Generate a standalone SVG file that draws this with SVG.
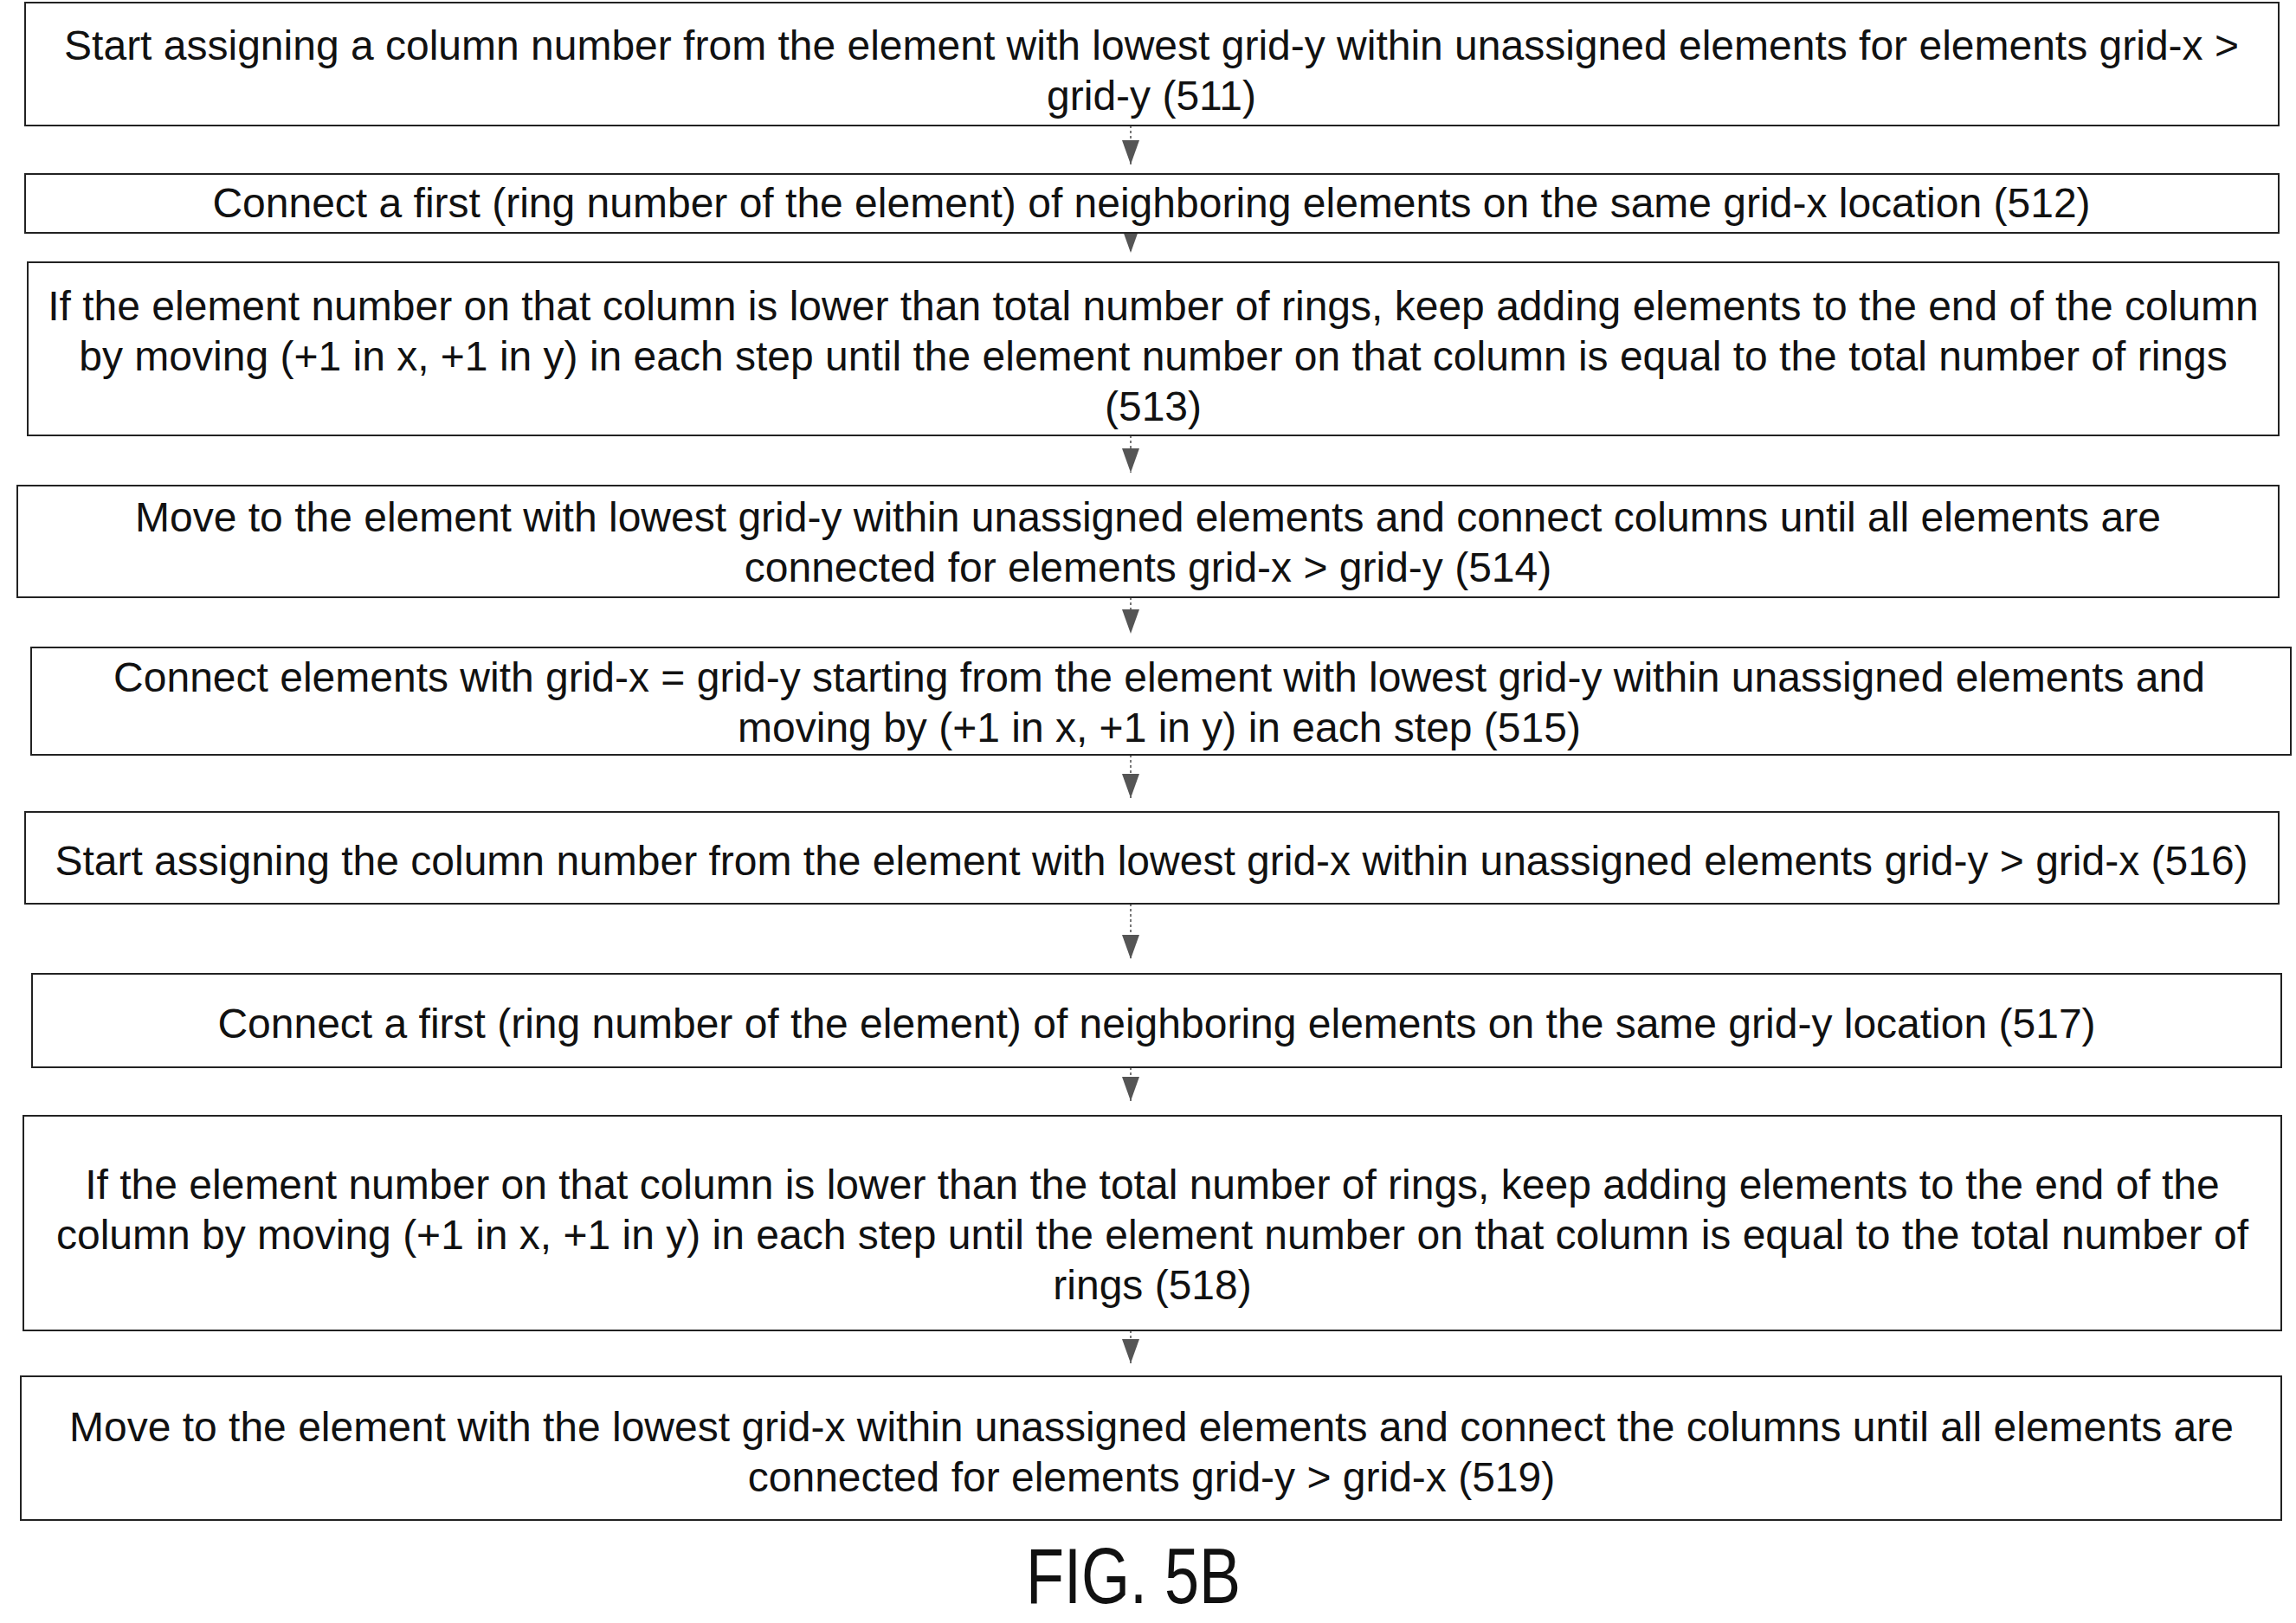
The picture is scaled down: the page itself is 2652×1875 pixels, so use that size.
<svg xmlns="http://www.w3.org/2000/svg" width="2652" height="1875" viewBox="0 0 2652 1875">
<style>
.b{fill:#fff;stroke:#222;stroke-width:2}
.t{font-family:"Liberation Sans",Arial,sans-serif;font-size:48px;fill:#111;text-anchor:middle}
.c{stroke:#777;stroke-width:2;stroke-dasharray:3 3;fill:none}
</style>
<defs><marker id="a" markerWidth="28" markerHeight="20" refX="28" refY="10" orient="auto" markerUnits="userSpaceOnUse" viewBox="0 0 28 20"><path d="M0,0 L28,10 L0,20 Z" fill="#555"/></marker></defs>
<rect width="2652" height="1875" fill="#fff"/>
<g id="connectors">
<line class="c" x1="1306" y1="145" x2="1306" y2="190" marker-end="url(#a)"/>
<line class="c" x1="1306" y1="269" x2="1306" y2="292" marker-end="url(#a)"/>
<line class="c" x1="1306" y1="503" x2="1306" y2="546" marker-end="url(#a)"/>
<line class="c" x1="1306" y1="690" x2="1306" y2="732" marker-end="url(#a)"/>
<line class="c" x1="1306" y1="872" x2="1306" y2="922" marker-end="url(#a)"/>
<line class="c" x1="1306" y1="1044" x2="1306" y2="1108" marker-end="url(#a)"/>
<line class="c" x1="1306" y1="1233" x2="1306" y2="1272" marker-end="url(#a)"/>
<line class="c" x1="1306" y1="1537" x2="1306" y2="1575" marker-end="url(#a)"/>
</g>
<g id="n511"><rect class="b" x="29" y="3" width="2603" height="142"/><text class="t" x="1330" y="69">Start assigning a column number from the element with lowest grid-y within unassigned elements for elements grid-x &gt;</text><text class="t" x="1330" y="127">grid-y (511)</text></g>
<g id="n512"><rect class="b" x="29" y="201" width="2603" height="68"/><text class="t" x="1330" y="251">Connect a first (ring number of the element) of neighboring elements on the same grid-x location (512)</text></g>
<g id="n513"><rect class="b" x="32" y="303" width="2600" height="200"/><text class="t" x="1332" y="370">If the element number on that column is lower than total number of rings, keep adding elements to the end of the column</text><text class="t" x="1332" y="428">by moving (+1 in x, +1 in y) in each step until the element number on that column is equal to the total number of rings</text><text class="t" x="1332" y="486">(513)</text></g>
<g id="n514"><rect class="b" x="20" y="561" width="2612" height="129"/><text class="t" x="1326" y="614">Move to the element with lowest grid-y within unassigned elements and connect columns until all elements are</text><text class="t" x="1326" y="672">connected for elements grid-x &gt; grid-y (514)</text></g>
<g id="n515"><rect class="b" x="36" y="748" width="2610" height="124"/><text class="t" x="1339" y="799">Connect elements with grid-x = grid-y starting from the element with lowest grid-y within unassigned elements and</text><text class="t" x="1339" y="857">moving by (+1 in x, +1 in y) in each step (515)</text></g>
<g id="n516"><rect class="b" x="29" y="938" width="2603" height="106"/><text class="t" x="1330" y="1011">Start assigning the column number from the element with lowest grid-x within unassigned elements grid-y &gt; grid-x (516)</text></g>
<g id="n517"><rect class="b" x="37" y="1125" width="2598" height="108"/><text class="t" x="1336" y="1199">Connect a first (ring number of the element) of neighboring elements on the same grid-y location (517)</text></g>
<g id="n518"><rect class="b" x="27" y="1289" width="2608" height="248"/><text class="t" x="1331" y="1385">If the element number on that column is lower than the total number of rings, keep adding elements to the end of the</text><text class="t" x="1331" y="1443">column by moving (+1 in x, +1 in y) in each step until the element number on that column is equal to the total number of</text><text class="t" x="1331" y="1501">rings (518)</text></g>
<g id="n519"><rect class="b" x="24" y="1590" width="2611" height="166"/><text class="t" x="1330" y="1665">Move to the element with the lowest grid-x within unassigned elements and connect the columns until all elements are</text><text class="t" x="1330" y="1723">connected for elements grid-y &gt; grid-x (519)</text></g>
<text x="1309" y="1852" font-family="Liberation Sans,Arial,sans-serif" font-size="90" fill="#111" text-anchor="middle" transform="translate(1309 0) scale(0.8 1) translate(-1309 0)">FIG. 5B</text>
</svg>
